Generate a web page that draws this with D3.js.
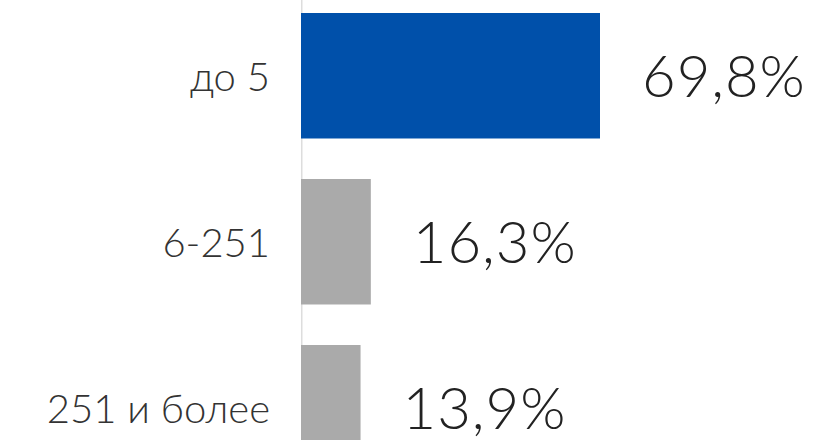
<!DOCTYPE html>
<html>
<head>
<meta charset="utf-8">
<script src="https://cdn.jsdelivr.net/npm/d3@7"></script>
<style>
  html, body { margin: 0; padding: 0; background: #fff; overflow: hidden; }
  svg { display: block; }
</style>
</head>
<body>
<div class="chart"></div>
<script>
const categories = ['до 5', '6-251', '251 и более'];
const shares = [69.8, 16.3, 13.9];
const barColors = ['#0050aa', '#aaaaaa', '#aaaaaa'];

const width = 815;
const height = 440;

const svg = d3.select('.chart')
  .append('svg')
  .attr('width', width)
  .attr('height', height);

const x = d3.scaleLinear()
  .domain([0, 69.8])
  .range([301, 600]);

const y = d3.scaleBand()
  .domain(categories)
  .range([-7.25, 490.75])
  .paddingInner(0.244)
  .paddingOuter(0.122);

const data = categories.map((c, i) => ({cat: c, value: shares[i], color: barColors[i]}));

// axis line
svg.append('line')
  .attr('x1', x(0) + 0.75).attr('x2', x(0) + 0.75)
  .attr('y1', 0).attr('y2', height)
  .attr('stroke', '#dddddd')
  .attr('stroke-width', 1.5);

svg.selectAll('rect.bar')
  .data(data)
  .join('rect')
  .attr('class', 'bar')
  .attr('x', x(0))
  .attr('y', d => y(d.cat))
  .attr('width', d => x(d.value) - x(0))
  .attr('height', y.bandwidth())
  .attr('fill', d => d.color);

// category labels
svg.selectAll('text.cat')
  .data(data)
  .join('text')
  .attr('class', 'cat')
  .attr('x', 270)
  .attr('y', d => y(d.cat) + y.bandwidth() / 2)
  .attr('dy', '0.38em')
  .attr('text-anchor', 'end')
  .style('font-family', 'Lato, sans-serif')
  .style('font-weight', 300)
  .style('font-size', '40px')
  .style('fill', '#333')
  .text(d => d.cat);

// value labels
svg.selectAll('text.val')
  .data(data)
  .join('text')
  .attr('class', 'val')
  .attr('x', d => x(d.value) + 42)
  .attr('y', d => y(d.cat) + y.bandwidth() / 2)
  .attr('dy', '0.36em')
  .style('font-family', 'Lato, sans-serif')
  .style('font-weight', 300)
  .style('font-size', '58px')
  .style('letter-spacing', '1px')
  .style('fill', '#222')
  .text(d => d.value.toFixed(1).replace('.', ',') + '%');
</script>
</body>
</html>
